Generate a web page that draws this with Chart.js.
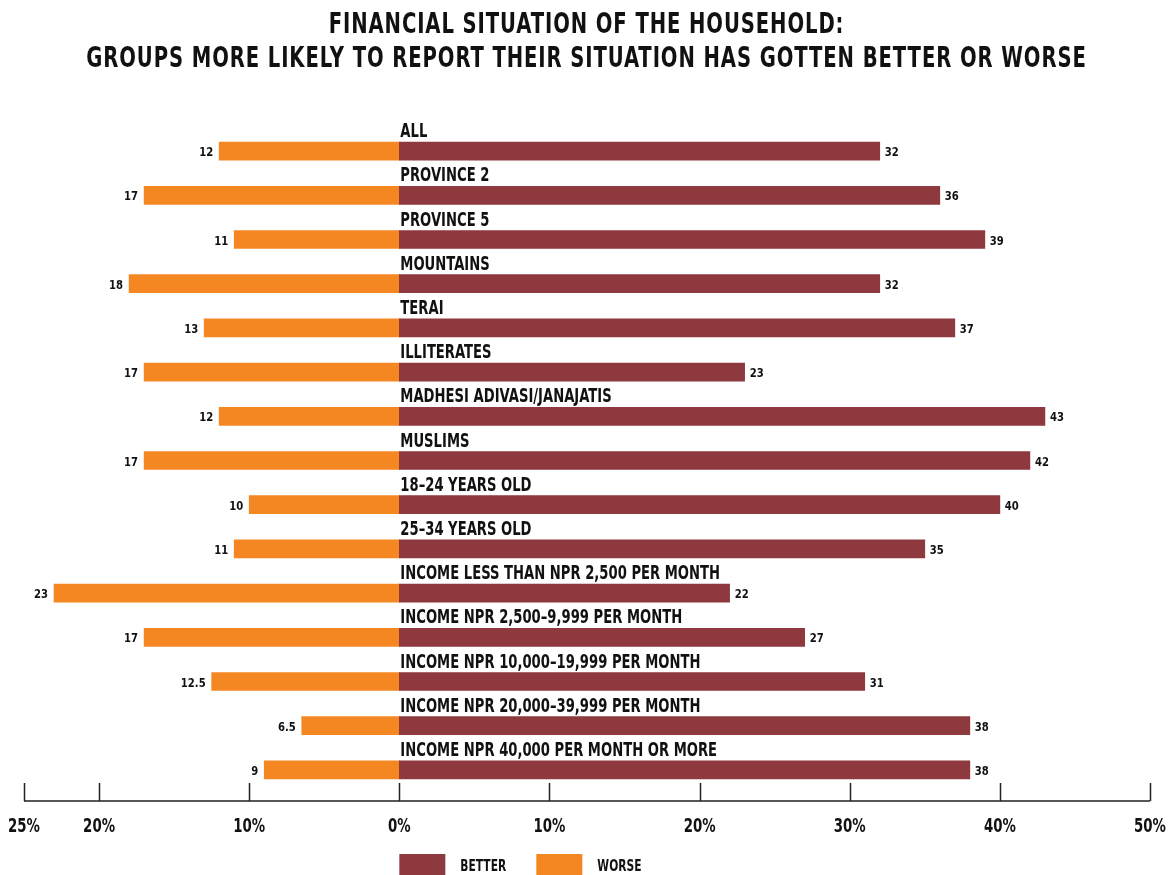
<!DOCTYPE html>
<html>
<head>
<meta charset="utf-8">
<script src="https://cdn.jsdelivr.net/npm/chart.js@4.4.0/dist/chart.umd.min.js"></script>
<style>
  html, body { margin: 0; padding: 0; background: #fff; }
  #wrap { width: 1173px; height: 875px; }
</style>
</head>
<body>
<div id="wrap"><canvas id="chart" width="1173" height="875"></canvas></div>
<script>
// groups, top to bottom
const categories = [
  'ALL', 'PROVINCE 2', 'PROVINCE 5', 'MOUNTAINS', 'TERAI', 'ILLITERATES',
  'MADHESI ADIVASI/JANAJATIS', 'MUSLIMS', '18–24 YEARS OLD', '25–34 YEARS OLD',
  'INCOME LESS THAN NPR 2,500 PER MONTH', 'INCOME NPR 2,500–9,999 PER MONTH',
  'INCOME NPR 10,000–19,999 PER MONTH', 'INCOME NPR 20,000–39,999 PER MONTH',
  'INCOME NPR 40,000 PER MONTH OR MORE'
];
const betterValues = [32, 36, 39, 32, 37, 23, 43, 42, 40, 35, 22, 27, 31, 38, 38];
const worseValues = [12, 17, 11, 18, 13, 17, 12, 17, 10, 11, 23, 17, 12.5, 6.5, 9];
const axisTicks = [-25, -20, -10, 0, 10, 20, 30, 40, 50];
const seriesNames = ['BETTER', 'WORSE'];
const titleLines = [
  'FINANCIAL SITUATION OF THE HOUSEHOLD:',
  'GROUPS MORE LIKELY TO REPORT THEIR SITUATION HAS GOTTEN BETTER OR WORSE'
];

const BETTER_COLOR = '#8E393D';
const WORSE_COLOR = '#F58722';
const INK = '#111111';
const FONT = "'DejaVu Sans Condensed', 'DejaVu Sans', sans-serif";

// bold text squeezed horizontally by sx, to get a narrow look
function drawText(ctx, text, x, y, size, align, sx, spacing) {
  ctx.save();
  ctx.font = 'bold ' + size + 'px ' + FONT;
  ctx.letterSpacing = (spacing || 0) + 'px';
  ctx.fillStyle = INK;
  ctx.textBaseline = 'alphabetic';
  ctx.textAlign = 'left';
  const w = ctx.measureText(text).width * sx;
  let left = x;
  if (align === 'center') left = x - w / 2;
  else if (align === 'right') left = x - w;
  ctx.translate(left, y);
  ctx.scale(sx, 1);
  ctx.fillText(text, 0, 0);
  ctx.restore();
}

const labelsPlugin = {
  id: 'labelsPlugin',
  afterDraw(chart) {
    const ctx = chart.ctx;
    const xs = chart.scales.x;
    const area = chart.chartArea;
    const zero = xs.getPixelForValue(0);

    // title
    drawText(ctx, titleLines[0], chart.width / 2, 33, 29, 'center', 0.752, 1.2);
    drawText(ctx, titleLines[1], chart.width / 2, 67, 29, 'center', 0.752, 1.2);

    const better = chart.getDatasetMeta(0).data;
    const worse = chart.getDatasetMeta(1).data;
    categories.forEach((name, i) => {
      const b = better[i];
      const w = worse[i];
      const top = b.y - b.height / 2;
      drawText(ctx, name, zero + 1, top - 5, 19, 'left', 0.77, 0);
      drawText(ctx, String(betterValues[i]), b.x + 5, b.y + 5, 13, 'left', 0.86, 0);
      drawText(ctx, String(worseValues[i]), w.x - 6, w.y + 5, 13, 'right', 0.86, 0);
    });

    // axis line with upward ticks and their labels
    const axisY = area.bottom + 9;
    ctx.save();
    ctx.strokeStyle = '#222';
    ctx.lineWidth = 1.5;
    ctx.beginPath();
    ctx.moveTo(xs.getPixelForValue(xs.min), axisY);
    ctx.lineTo(xs.getPixelForValue(xs.max), axisY);
    xs.ticks.forEach(t => {
      const px = Math.round(xs.getPixelForValue(t.value)) + 0.5;
      ctx.moveTo(px, axisY);
      ctx.lineTo(px, axisY - 18);
    });
    ctx.stroke();
    ctx.restore();
    xs.ticks.forEach(t => {
      drawText(ctx, Math.abs(t.value) + '%', xs.getPixelForValue(t.value), axisY + 31, 19, 'center', 0.78, 0);
    });

    // legend
    const colors = [BETTER_COLOR, WORSE_COLOR];
    let lx = zero;
    const ly = 854;
    seriesNames.forEach((s, k) => {
      ctx.fillStyle = colors[k];
      ctx.fillRect(lx, ly, 46, 21);
      drawText(ctx, s, lx + 61, ly + 17, 16.5, 'left', 0.72, 0);
      lx += 137;
    });
  }
};

new Chart(document.getElementById('chart'), {
  type: 'bar',
  data: {
    labels: categories,
    datasets: [
      { label: seriesNames[0], data: betterValues, backgroundColor: BETTER_COLOR, barThickness: 18 },
      { label: seriesNames[1], data: worseValues.map(v => -v), backgroundColor: WORSE_COLOR, barThickness: 18 }
    ]
  },
  options: {
    indexAxis: 'y',
    responsive: false,
    animation: false,
    devicePixelRatio: 1,
    layout: { padding: { left: 24, right: 23, top: 129, bottom: 83 } },
    plugins: {
      legend: { display: false },
      title: { display: false },
      tooltip: { enabled: false }
    },
    scales: {
      x: {
        type: 'linear',
        min: -25,
        max: 50,
        stacked: true,
        afterBuildTicks(scale) {
          scale.ticks = axisTicks.map(v => ({ value: v }));
        },
        ticks: { display: false },
        grid: { display: false, drawTicks: false },
        border: { display: false }
      },
      y: {
        stacked: true,
        display: false
      }
    }
  },
  plugins: [labelsPlugin]
});
</script>
</body>
</html>
